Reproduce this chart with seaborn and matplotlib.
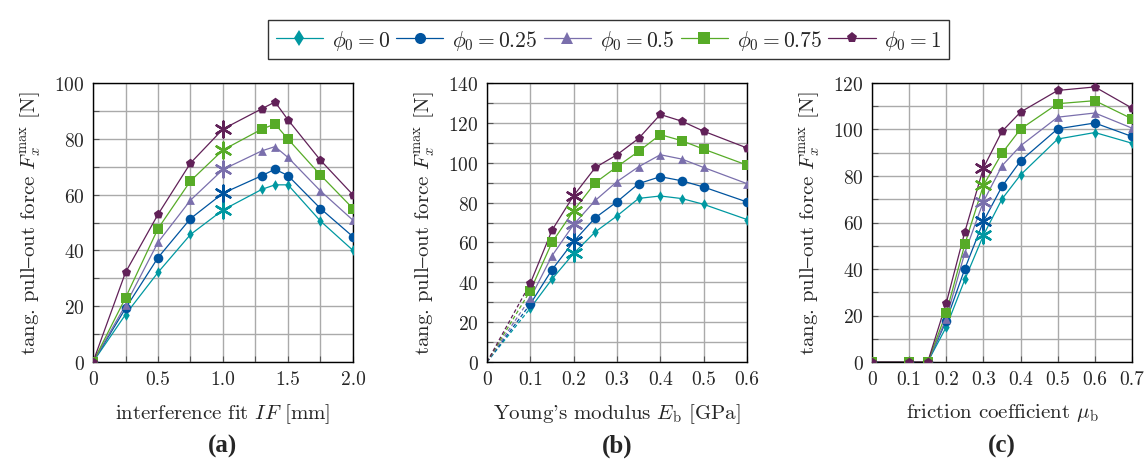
import numpy as np
import pandas as pd
import matplotlib
matplotlib.use('Agg')
import matplotlib.pyplot as plt
from matplotlib.lines import Line2D
from matplotlib.ticker import MultipleLocator
import seaborn as sns

# series labels / styles
phi_labels = ['0', '0.25', '0.5', '0.75', '1']
colors = ['#0098A1', '#00549F', '#7A6FAC', '#57AB27', '#612158']
markers = ['d', 'o', '^', 's', 'p']
msizes = [30, 48, 40, 45, 48]

# (a) interference fit
if_x = [0, 0.25, 0.5, 0.75, 1.0, 1.3, 1.4, 1.5, 1.75, 2.0]
if_force = [
    [0, 17.0, 32.1, 45.7, 54.5, 61.9, 63.5, 63.5, 50.5, 40.0],
    [0, 19.2, 37.4, 51.4, 60.5, 66.8, 69.1, 66.8, 55.0, 44.9],
    [0, 20.4, 42.9, 58.0, 69.0, 75.7, 77.2, 73.3, 61.3, 50.8],
    [0, 23.0, 47.8, 64.9, 76.0, 83.5, 85.3, 79.9, 67.0, 55.0],
    [0, 32.1, 52.9, 71.3, 83.5, 90.8, 93.2, 86.8, 72.3, 59.9],
]
if_star = 1.0

# (b) Young's modulus
e_x = [0, 0.1, 0.15, 0.2, 0.25, 0.3, 0.35, 0.4, 0.45, 0.5, 0.6]
e_force = [
    [0, 27.0, 41.6, 54.5, 65.3, 73.3, 82.1, 83.3, 82.0, 79.1, 71.5],
    [0, 29.1, 46.3, 60.5, 72.4, 80.4, 89.5, 93.0, 90.9, 87.8, 80.3],
    [0, 32.0, 53.3, 69.0, 81.1, 90.5, 98.0, 104.0, 101.8, 97.6, 89.5],
    [0, 35.8, 60.0, 76.0, 90.0, 98.0, 105.7, 114.1, 111.0, 106.8, 98.8],
    [0, 39.5, 66.1, 83.5, 97.6, 104.0, 112.2, 124.2, 120.8, 115.8, 107.4],
]
e_star = 0.2

# (c) friction coefficient
mu_x = [0, 0.1, 0.15, 0.2, 0.25, 0.3, 0.35, 0.4, 0.5, 0.6, 0.7]
mu_force = [
    [0, 0, 0, 15.1, 35.5, 54.5, 70.1, 80.5, 95.9, 98.7, 94.1],
    [0, 0, 0, 17.7, 40.1, 60.5, 75.5, 86.5, 100.3, 102.8, 97.0],
    [0, 0, 0, 18.7, 47.0, 69.0, 84.4, 93.0, 105.3, 107.1, 100.6],
    [0, 0, 0, 21.1, 50.7, 76.0, 89.8, 100.2, 111.1, 112.4, 104.6],
    [0, 0, 0, 25.4, 56.0, 83.5, 99.2, 107.5, 116.8, 118.3, 109.2],
]
mu_star = 0.3

sns.set_theme(style='ticks')
plt.rcParams['font.family'] = ['cmr10', 'DejaVu Serif']
plt.rcParams['mathtext.fontset'] = 'cm'
plt.rcParams['axes.formatter.use_mathtext'] = True
plt.rcParams['axes.unicode_minus'] = False

fig = plt.figure(figsize=(11.48, 4.6), dpi=100)
lefts = [93 / 1148, 487 / 1148, 872 / 1148]
axes = [fig.add_axes([l, 97 / 460, 260 / 1148, 279 / 460]) for l in lefts]


def make_df(xs, forces):
    rows = []
    for lab, vals in zip(phi_labels, forces):
        for x, v in zip(xs, vals):
            rows.append({'x': x, 'F': v, 'phi': lab})
    return pd.DataFrame(rows)


def draw(ax, xs, forces, star, dashed_first=False):
    df = make_df(xs, forces)
    pal = dict(zip(phi_labels, colors))
    mk = dict(zip(phi_labels, markers))
    if dashed_first:
        first = df[df['x'] <= xs[1]]
        sns.lineplot(data=first, x='x', y='F', hue='phi', palette=pal, ax=ax,
                     legend=False, lw=0.9, linestyle=(0, (3, 2)), sort=False)
        solid = df[df['x'] >= xs[1]]
    else:
        solid = df
    sns.lineplot(data=solid, x='x', y='F', hue='phi', palette=pal, ax=ax,
                 legend=False, lw=0.9, sort=False, zorder=3)
    pts = solid[np.abs(solid['x'] - star) > 1e-9]
    for i, lab in enumerate(phi_labels):
        sub = pts[pts['phi'] == lab]
        sns.scatterplot(data=sub, x='x', y='F', color=colors[i], marker=mk[lab],
                        s=msizes[i], linewidth=0, ax=ax, legend=False, zorder=4)
        st = solid[(solid['phi'] == lab) & (np.abs(solid['x'] - star) < 1e-9)]
        sns.scatterplot(data=st, x='x', y='F', color=colors[i], marker=(6, 2, 0),
                        s=130, linewidth=1.7, ax=ax, legend=False, zorder=5)


draw(axes[0], if_x, if_force, if_star)
draw(axes[1], e_x, e_force, e_star, dashed_first=True)
draw(axes[2], mu_x, mu_force, mu_star)

settings = [
    (0, 2.0, 0.5, 0.25, 100, r'interference fit $\mathit{IF}$ [mm]', '(a)'),
    (0, 0.6, 0.1, 0.1, 140, r"Young's modulus $E_\mathrm{b}$ [GPa]", '(b)'),
    (0, 0.7, 0.1, 0.1, 120, r'friction coefficient $\mu_\mathrm{b}$', '(c)'),
]
for ax, (x0, x1, xmaj, xmin, ymax, xlabel, tag) in zip(axes, settings):
    ax.set_xlim(x0, x1)
    ax.set_ylim(0, ymax)
    ticks = np.round(np.arange(x0, x1 + 1e-9, xmaj), 2)
    ax.set_xticks(ticks)
    ax.set_xticklabels(['0'] + [f'{t:.1f}' for t in ticks[1:]])
    ax.xaxis.set_minor_locator(MultipleLocator(xmin))
    ax.yaxis.set_major_locator(MultipleLocator(20))
    ax.yaxis.set_minor_locator(MultipleLocator(10))
    ax.grid(True, which='both', color='#aaaaaa', lw=1.0)
    ax.set_axisbelow(True)
    ax.tick_params(which='both', direction='in', length=4, width=0.8,
                   color='#555555', labelsize=14, pad=6)
    for sp in ax.spines.values():
        sp.set_color('black')
        sp.set_linewidth(1.0)
    ax.set_xlabel(xlabel, fontsize=15, labelpad=9)
    ax.set_ylabel(r'tang. pull$\mathrm{–}$out force $F_x^{\mathrm{max}}$ [N]',
                  fontsize=15, labelpad=8)
    ax.text(0.5, -0.30, tag, transform=ax.transAxes, ha='center', va='center',
            fontsize=18, fontweight='bold',
            fontfamily=['Liberation Serif', 'Times New Roman', 'DejaVu Serif'])
    ax.patch.set_facecolor('white')

handles = [Line2D([], [], color=c, marker=m, lw=0.9, markersize=8, markeredgewidth=0)
           for c, m in zip(colors, markers)]
labels = [rf'$\phi_0 = {p}$' for p in phi_labels]
leg = fig.legend(handles, labels, loc='upper center', bbox_to_anchor=(0.53, 0.977),
                 ncol=5, fontsize=15.5, frameon=True, fancybox=False,
                 handlelength=2.2, handletextpad=0.4, columnspacing=0.3,
                 borderpad=0.35, edgecolor='black')
leg.get_frame().set_linewidth(1.0)

fig.savefig('out.png', dpi=100)
